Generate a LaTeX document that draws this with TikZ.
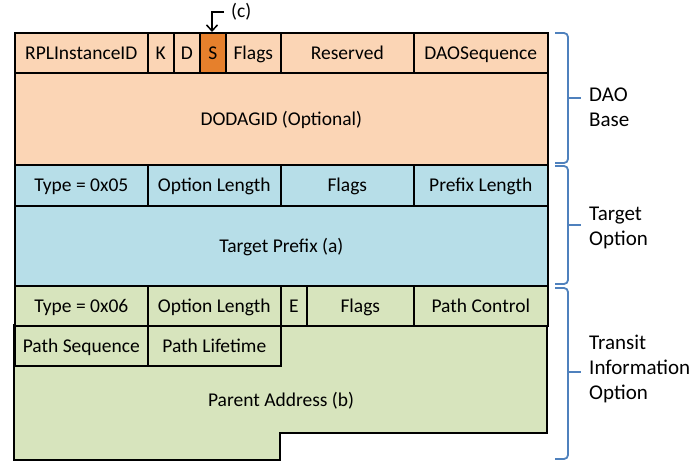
\documentclass[tikz,border=0pt]{standalone}
\usepackage{fontspec}
\setmainfont{Carlito}
\usetikzlibrary{arrows.meta}
\definecolor{peach}{HTML}{FBD5B5}
\definecolor{sorange}{HTML}{E6802C}
\definecolor{aqua}{HTML}{B7DEE8}
\definecolor{olive}{HTML}{D7E4BD}
\definecolor{bracecol}{HTML}{4F81BD}
\tikzset{
  cell/.style={draw=black, line width=1.6pt, anchor=north west, inner sep=0pt,
    text height=15pt, text depth=2pt,
    font=\fontsize{19.5}{22}\selectfont},
  bracket/.style={draw=bracecol, line width=1.8pt, rounded corners=4pt},
  sidelabel/.style={anchor=west, align=left, inner sep=0pt,
    font=\fontsize{21}{25}\selectfont},
}
% a field: name, x0, y0, x1, y1 (pixel units, y downwards), fill, text
\newcommand{\field}[7]{%
  \node[cell, fill=#6, minimum width={(#4-#2)*1pt}, minimum height={(#5-#3)*1pt}]
    (#1) at (#2,-#3) {#7};}
\begin{document}
\begin{tikzpicture}[x=1pt,y=1pt]
\useasboundingbox (0,0) rectangle (695,-462);

% DAO base
\field{rpl}{14}{32}{147}{72}{peach}{RPLInstanceID}
\field{k}{147}{32}{173}{72}{peach}{K}
\field{d}{173}{32}{199}{72}{peach}{D}
\field{s}{199}{32}{225}{72}{sorange}{S}
\field{fl1}{225}{32}{280}{72}{peach}{Flags}
\field{res}{280}{32}{413}{72}{peach}{Reserved}
\field{seq}{413}{32}{547}{72}{peach}{DAOSequence}
\field{dodag}{14}{72}{547}{164}{peach}{DODAGID (Optional)}

% Target option
\field{t5}{14}{164}{147}{205}{aqua}{Type = 0x05}
\field{ol1}{147}{164}{280}{205}{aqua}{Option Length}
\field{fl2}{280}{164}{413}{205}{aqua}{Flags}
\field{pl}{413}{164}{547}{205}{aqua}{Prefix Length}
\field{tp}{14}{205}{547}{285}{aqua}{Target Prefix (a)}

% Transit information option: parent address area with its notch
\draw[fill=olive, line width=1.6pt, line join=miter]
  (14,-325) -- (547,-325) -- (547,-433) -- (280,-433) -- (280,-460) -- (14,-460) -- cycle;
\node[font=\fontsize{19.5}{22}\selectfont] (pa) at (281,-401) {Parent Address (b)};
\field{t6}{14}{285}{147}{325}{olive}{Type = 0x06}
\field{ol2}{147}{285}{280}{325}{olive}{Option Length}
\field{e}{280}{285}{306}{325}{olive}{E}
\field{fl3}{306}{285}{413}{325}{olive}{Flags}
\field{pc}{413}{285}{547}{325}{olive}{Path Control}
\field{ps}{14}{325}{147}{365}{olive}{Path Sequence}
\field{plt}{147}{325}{280}{365}{olive}{Path Lifetime}

% marker for the S flag
\coordinate (cend) at (224,-12);
\node[anchor=west, inner sep=0pt, font=\fontsize{19.5}{22}\selectfont] (clab) at (231,-12) {(c)};
\draw[line width=1.5pt, -{Straight Barb[length=6pt,width=11pt]}]
  (cend) -- (212,-12) -- (s.north -| 212,0);

% side brackets
\draw[bracket] (555,-33) -- (568,-33) -- (568,-163) -- (555,-163);
\draw[bracket] (568,-98) -- (581,-98);
\node[sidelabel] (lb1) at (589,-107) {DAO\\Base};

\draw[bracket] (555,-166) -- (568,-166) -- (568,-284) -- (555,-284);
\draw[bracket] (568,-225) -- (581,-225);
\node[sidelabel] (lb2) at (589,-228) {Target\\Option};

\draw[bracket] (555,-288) -- (568,-288) -- (568,-459) -- (555,-459);
\draw[bracket] (568,-372) -- (581,-372);
\node[sidelabel] (lb3) at (589,-369) {Transit\\Information\\Option};
\end{tikzpicture}
\end{document}
